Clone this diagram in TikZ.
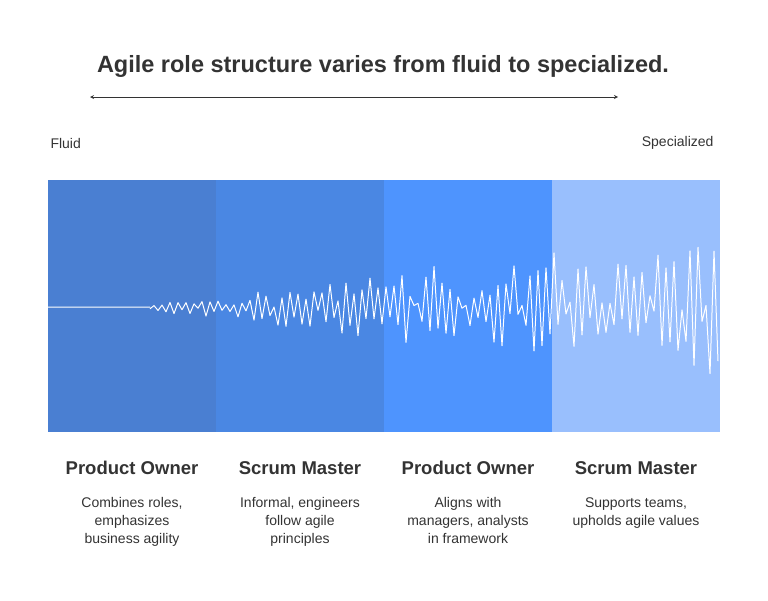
\documentclass[tikz,border=0pt]{standalone}
\usepackage{fontspec}
\setmainfont{Liberation Sans}
\definecolor{c1}{HTML}{4A7FD2}
\definecolor{c2}{HTML}{4A87E3}
\definecolor{c3}{HTML}{4E94FE}
\definecolor{c4}{HTML}{99BFFD}
\definecolor{tx}{HTML}{333333}
\tikzset{ttl/.style={font=\bfseries\fontsize{18.5}{20}\selectfont,text=tx},
 dsc/.style={font=\fontsize{14}{18}\selectfont,text=tx,align=center,anchor=north},
 pnl/.style={draw=none}}
\begin{document}
\begin{tikzpicture}[x=1pt,y=-1pt]
\useasboundingbox (0,0) rectangle (768,600);
\node[font=\bfseries\fontsize{23.5}{26}\selectfont,text=tx] (title) at (383,66) {Agile role structure varies from fluid to specialized.};
\coordinate (al) at (90,97); \coordinate (ar) at (618,97);
\draw[<->,>=stealth,tx,thick] (al) -- (ar);
\node[anchor=west,font=\fontsize{14}{16}\selectfont,text=tx] (fl) at (47,143) {Fluid};
\node[anchor=east,font=\fontsize{14}{16}\selectfont,text=tx] (sp) at (717,143) {Specialized};
\fill[c1] (48,180) rectangle (216,432);
\fill[c2] (216,180) rectangle (384,432);
\fill[c3] (384,180) rectangle (552,432);
\fill[c4] (552,180) rectangle (720,432);
\pgfmathsetseed{11}
\draw[white,line width=1pt,line join=round] (48,307) -- (150,307)
 plot[domain=0:142,samples=143] ({150+4*\x},{307+cos(180*mod(round(\x),2))*(4+0.45*\x)*(0.15+0.85*rnd)+0.12*\x*rand});
\foreach \n/\x/\t/\d in {a/132/Product Owner/{Combines roles,\\emphasizes\\business agility},
 b/300/Scrum Master/{Informal, engineers\\follow agile\\principles},
 c/468/Product Owner/{Aligns with\\managers, analysts\\in framework},
 d/636/Scrum Master/{Supports teams,\\upholds agile values}}{
 \node[ttl] (t\n) at (\x,468) {\t};
 \node[dsc] (d\n) at (\x,494) {\d};
}
\end{tikzpicture}
\end{document}
